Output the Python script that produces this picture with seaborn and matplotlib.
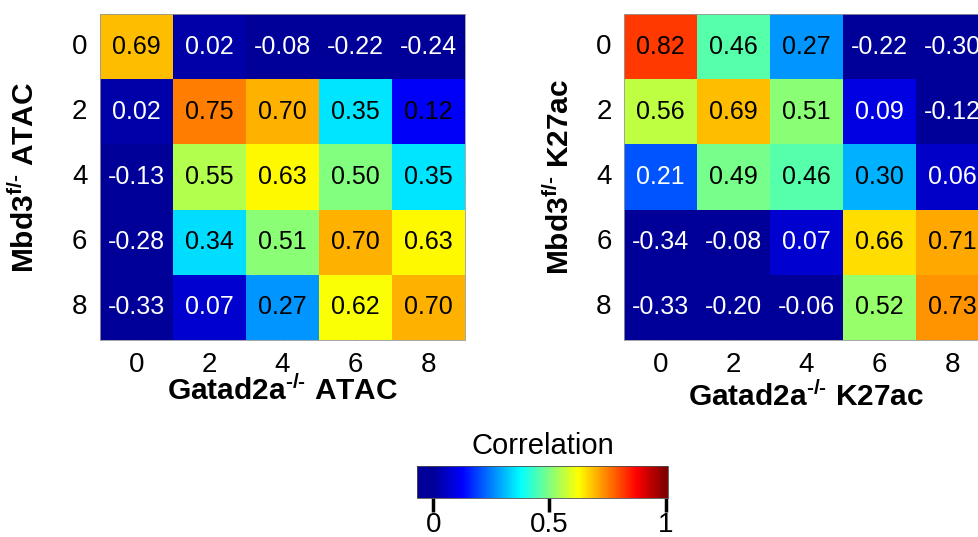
import numpy as np
import pandas as pd
import matplotlib
matplotlib.use("Agg")
import matplotlib.pyplot as plt
import seaborn as sns
from matplotlib.colors import LinearSegmentedColormap

# Time points (days) for both knockouts
timepoints = [0, 2, 4, 6, 8]

# Pearson correlation between Mbd3 f/- (rows) and Gatad2a -/- (columns) time points
atac_corr = [
    [0.69, 0.02, -0.08, -0.22, -0.24],
    [0.02, 0.75, 0.70, 0.35, 0.12],
    [-0.13, 0.55, 0.63, 0.50, 0.35],
    [-0.28, 0.34, 0.51, 0.70, 0.63],
    [-0.33, 0.07, 0.27, 0.62, 0.70],
]
k27ac_corr = [
    [0.82, 0.46, 0.27, -0.22, -0.30],
    [0.56, 0.69, 0.51, 0.09, -0.12],
    [0.21, 0.49, 0.46, 0.30, 0.06],
    [-0.34, -0.08, 0.07, 0.66, 0.71],
    [-0.33, -0.20, -0.06, 0.52, 0.73],
]
colorbar_ticks = [0, 0.5, 1]
colorbar_ticklabels = ["0", "0.5", "1"]

sns.set_theme(style="white")
plt.rcParams["font.family"] = ["Liberation Sans", "DejaVu Sans"]
plt.rcParams["mathtext.fontset"] = "custom"
plt.rcParams["mathtext.rm"] = "Liberation Sans"
plt.rcParams["mathtext.it"] = "Liberation Sans:italic"
plt.rcParams["mathtext.bf"] = "Liberation Sans:bold"
for key in ("text.color", "axes.labelcolor", "xtick.labelcolor", "ytick.labelcolor"):
    plt.rcParams[key] = "black"

# MATLAB-style jet colormap
jet = LinearSegmentedColormap.from_list(
    "matlab_jet",
    [(0.0, (0, 0, 0.6)), (0.125, (0, 0, 1)), (0.375, (0, 1, 1)),
     (0.625, (1, 1, 0)), (0.875, (1, 0, 0)), (1.0, (0.5, 0, 0))],
)

W, H = 979, 537
fig = plt.figure(figsize=(W / 100, H / 100), dpi=100)


def px_axes(x0, y0, x1, y1):
    return fig.add_axes([x0 / W, 1 - y1 / H, (x1 - x0) / W, (y1 - y0) / H])


ax_atac = px_axes(100, 14, 465, 340)
ax_k27 = px_axes(624, 14, 989, 340)
cax = px_axes(417, 466, 668, 498)

HY = "\u2010"  # short hyphen for the genotype superscripts


def draw_panel(ax, data, xlabel, ylabel, xlabel_y, ylabel_x, light_extra=()):
    df = pd.DataFrame(data, index=timepoints, columns=timepoints)
    sns.heatmap(df, ax=ax, cmap=jet, vmin=0, vmax=1, cbar=False,
                annot=True, fmt=".2f", annot_kws={"fontsize": 18})
    vals = np.ravel(data)
    for text, v in zip(ax.texts, vals):
        light = v < 0.1 or any(np.isclose(v, e) for e in light_extra)
        text.set_color("white" if light else "black")
    ax.set_xticklabels([str(t) for t in timepoints], rotation=0)
    ax.set_yticklabels([str(t) for t in timepoints], rotation=0)
    ax.tick_params(axis="both", labelsize=20, direction="in", length=4,
                   width=0.8, color="0.35", left=True, bottom=True,
                   right=True, top=True)
    ax.tick_params(axis="y", pad=9)
    ax.tick_params(axis="x", pad=9)
    for s in ax.spines.values():
        s.set_visible(True)
        s.set_color("0.6")
        s.set_linewidth(0.6)
    ax.set_xlabel(xlabel, fontsize=21.5, fontweight="bold")
    ax.set_ylabel(ylabel, fontsize=21.5, fontweight="bold")
    ax.xaxis.set_label_coords(0.5, xlabel_y)
    ax.xaxis.label.set_va("center")
    ax.yaxis.set_label_coords(ylabel_x, 0.5)
    ax.yaxis.label.set_va("center")


sup_ko = r"$^{\mathbf{" + HY + "/" + HY + "}}$"
sup_fl = r"$^{\mathbf{f/" + HY + "}}$"

draw_panel(ax_atac, atac_corr,
           "Gatad2a" + sup_ko + " ATAC", "Mbd3" + sup_fl + " ATAC",
           xlabel_y=-0.157, ylabel_x=-0.205)
draw_panel(ax_k27, k27ac_corr,
           "Gatad2a" + sup_ko + " K27ac", "Mbd3" + sup_fl + " K27ac",
           xlabel_y=-0.175, ylabel_x=-0.175, light_extra=(0.21,))

# Shared colour scale
mesh = ax_atac.collections[0]
cbar = fig.colorbar(mesh, cax=cax, orientation="horizontal",
                    boundaries=np.linspace(-0.07, 1.01, 400))
cbar.set_ticks(colorbar_ticks)
cbar.set_ticklabels(colorbar_ticklabels)
cax.tick_params(direction="out", length=10, width=2.5, color="black",
                labelsize=20, pad=0, bottom=True)
cbar.outline.set_linewidth(0.6)
cbar.outline.set_edgecolor("0.3")
cax.set_title("Correlation", fontsize=21, pad=9)

fig.savefig("out.png", dpi=100)
